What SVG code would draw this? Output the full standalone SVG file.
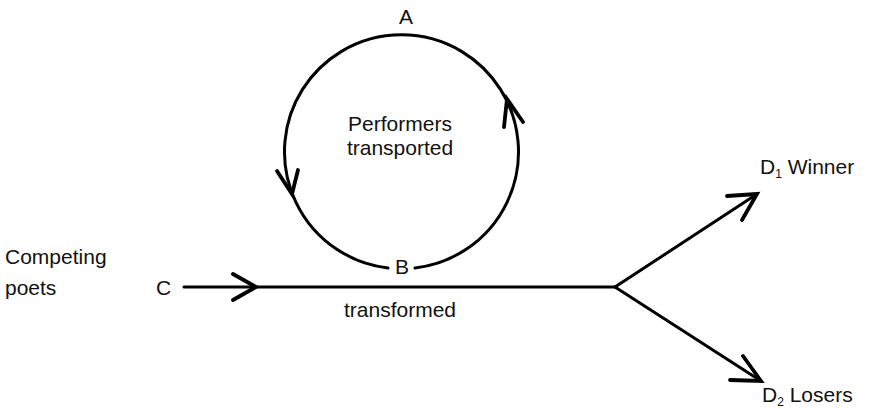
<svg xmlns="http://www.w3.org/2000/svg" width="872" height="409" viewBox="0 0 872 409">
  <style>
    .lbl { font-family: "Liberation Sans", Arial, sans-serif; font-size: 21px; fill: #111; }
    .sub { font-size: 12px; }
    .ln { fill: none; stroke: #000; stroke-width: 3; stroke-linecap: round; stroke-linejoin: round; }
    .head { fill: none; stroke: #000; stroke-width: 3.8; stroke-linecap: round; stroke-linejoin: miter; }
  </style>

  <rect width="872" height="409" fill="#fff"/>

  <!-- cycle of performance -->
  <g id="cycle">
    <path class="ln" d="M 388 268 A 117 117 0 1 1 415 268"/>
    <!-- downward arrow on the left arc -->
    <polyline class="head" points="277,171 292,194 298,170"/>
    <!-- upward arrow on the right arc -->
    <polyline class="head" points="504,127 507,99 523,122"/>
    <text class="lbl" x="400" y="131" text-anchor="middle">Performers</text>
    <text class="lbl" x="400" y="155" text-anchor="middle">transported</text>
  </g>

  <g id="nodeA"><text class="lbl" x="406" y="24" text-anchor="middle">A</text></g>
  <g id="nodeB"><text class="lbl" x="402" y="274" text-anchor="middle">B</text></g>
  <g id="nodeC">
    <text class="lbl" x="5" y="264">Competing</text>
    <text class="lbl" x="5" y="295">poets</text>
    <text class="lbl" x="156" y="295">C</text>
  </g>
  <g id="nodeD1"><text class="lbl" x="760" y="174">D<tspan class="sub" dy="4">1</tspan><tspan dy="-4"> Winner</tspan></text></g>
  <g id="nodeD2"><text class="lbl" x="762" y="402">D<tspan class="sub" dy="4">2</tspan><tspan dy="-4"> Losers</tspan></text></g>

  <g id="connectors">
    <line class="ln" x1="184" y1="287" x2="615" y2="287"/>
    <polyline class="head" points="233,274 256,287 233,300"/>
    <text class="lbl" x="400" y="317" text-anchor="middle">transformed</text>
    <line class="ln" x1="615" y1="287" x2="757" y2="194" stroke-width="2.6"/>
    <polyline class="head" points="727,196 757,194 742,220"/>
    <line class="ln" x1="615" y1="287" x2="761" y2="381" stroke-width="2.6"/>
    <polyline class="head" points="743,356 761,381 730,380"/>
  </g>
</svg>
